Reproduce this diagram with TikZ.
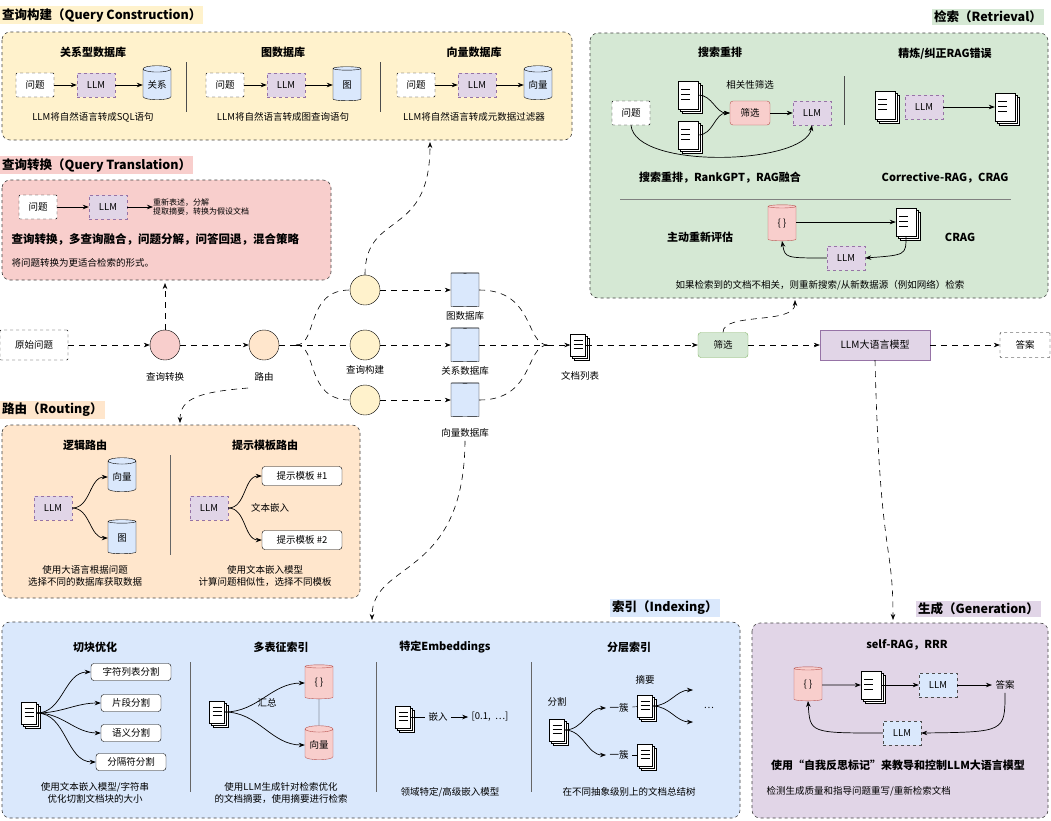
\documentclass[tikz,border=0pt]{standalone}
\usepackage{fontspec}
\setmainfont{Noto Sans CJK SC}
\usetikzlibrary{arrows.meta,calc,shapes.geometric,shadows}

\definecolor{qcfill}{HTML}{FFF2CC}
\definecolor{trfill}{HTML}{F8CECC}
\definecolor{rtfill}{HTML}{FFE6CC}
\definecolor{refill}{HTML}{D5E8D4}
\definecolor{ixfill}{HTML}{DAE8FC}
\definecolor{gnfill}{HTML}{E1D5E7}
\definecolor{llmline}{HTML}{9673A6}
\definecolor{pinkline}{HTML}{B85450}
\definecolor{greenline}{HTML}{82B366}

\tikzset{
  every node/.style={font=\fontsize{9.5}{11.5}\selectfont},
  grp/.style={draw=black!75, dashed, rounded corners=8, line width=0.6pt},
  ttl/.style={anchor=west, font=\fontsize{12.5}{14}\selectfont\bfseries, inner sep=2pt},
  sub/.style={font=\fontsize{11}{13}\selectfont\bfseries},
  qbox/.style={draw, dashed, fill=white, minimum width=38, minimum height=24, rounded corners=1},
  llm/.style={draw=llmline, dashed, fill=gnfill, minimum width=38, minimum height=24},
  db/.style={cylinder, shape border rotate=90, aspect=0.3, draw, fill=ixfill, minimum width=28, minimum height=34, inner sep=1pt},
  pdb/.style={db, fill=trfill, draw=pinkline},
  doc/.style={draw, fill=white, minimum width=15, minimum height=22, inner sep=0,
    double copy shadow={shadow xshift=2pt, shadow yshift=-2pt},
    path picture={\foreach \f in {0.3,0.47,0.64}
      \draw ([xshift=3pt]$(path picture bounding box.north west)!\f!(path picture bounding box.south west)$) -- ++(9pt,0);}},
  tmpl/.style={draw, fill=white, rounded corners=3, minimum height=19, inner sep=4pt},
  hub/.style={circle, draw, minimum size=30},
  arr/.style={-{Stealth[length=6pt]}, line width=0.7pt},
  flow/.style={dash pattern=on 6pt off 5pt, -{Stealth[length=6pt]}, line width=0.6pt},
}

\begin{document}
\begin{tikzpicture}[x=1pt,y=-1pt]
\useasboundingbox (0,0) rectangle (1051,820);

%Query construction
\node[ttl, fill=qcfill] (qctitle) at (0,15) {查询构建（Query Construction）};
\draw[grp, fill=qcfill] (2,32) rectangle (572,140);
\foreach \i/\x/\dbn/\head/\cap in {1/0/关系/关系型数据库/LLM将自然语言转成SQL语句,
    2/190/图/图数据库/LLM将自然语言转成图查询语句,
    3/381/向量/向量数据库/LLM将自然语言转成元数据过滤器}{
  \node[sub] (qch\i) at (93+\x,52) {\head};
  \node[qbox] (qcq\i) at (35+\x,85) {问题};
  \node[llm] (qcl\i) at (96+\x,85) {LLM};
  \node[db] (qcd\i) at (157+\x,85) {\dbn};
  \node (qcc\i) at (93+\x,117) {\cap};
  \draw[arr] (qcq\i) -- (qcl\i);
  \draw[arr] (qcl\i) -- (qcd\i);
}
\draw[line width=0.8pt, black!70] (186,62) -- (186,112);
\draw[line width=0.8pt, black!70] (380,62) -- (380,112);

%Query translation
\node[ttl, fill=trfill] (trtitle) at (0,165) {查询转换（Query Translation）};
\draw[grp, fill=trfill] (2,180) rectangle (331,280);
\node[qbox] (trq) at (38,207) {问题};
\node[llm] (trl) at (108,207) {LLM};
\node[anchor=west, align=left, inner sep=0, font=\fontsize{8}{9.5}\selectfont] (trout) at (153,207) {重新表述，分解\\提取摘要，转换为假设文档};
\draw[arr] (trq) -- (trl);
\draw[arr] (trl) -- (trout);
\node[anchor=west, font=\fontsize{11.5}{13}\selectfont\bfseries] (trbold) at (8,239) {查询转换，多查询融合，问题分解，问答回退，混合策略};
\node[anchor=west] (trnote) at (8,263) {将问题转换为更适合检索的形式。};

%Main flow
\node[qbox, minimum width=68, minimum height=30] (raw) at (34,345) {原始问题};
\node[hub, fill=trfill] (trans) at (165,345) {};
\node (transl) at (165,377) {查询转换};
\node[hub, fill=rtfill] (route) at (264,345) {};
\node (routel) at (264,377) {路由};
\coordinate (split) at (296,345);
\node[hub, fill=qcfill] (c1) at (365,290) {};
\node[hub, fill=qcfill] (c2) at (365,345) {};
\node[hub, fill=qcfill] (c3) at (365,400) {};
\node (c2l) at (365,370) {查询构建};
\node[db] (g1) at (465,290) {};
\node[db] (g2) at (465,345) {};
\node[db] (g3) at (465,400) {};
\node (g1l) at (465,316) {图数据库};
\node (g2l) at (465,371) {关系数据库};
\node (g3l) at (465,433) {向量数据库};
\coordinate (merge) at (548,345);
\node[doc] (docs) at (578,345) {};
\node (docsl) at (580,376) {文档列表};
\node[draw=greenline, fill=refill, rounded corners=3, minimum width=50, minimum height=25] (filt) at (723,345) {筛选};
\node[draw=llmline, fill=gnfill, minimum width=110, minimum height=30, font=\fontsize{10}{12}\selectfont] (bigllm) at (875,345) {LLM大语言模型};
\node[qbox, minimum width=50, minimum height=25] (ans) at (1025,345) {答案};

\draw[flow] (raw) -- (trans);
\draw[flow] (trans) -- (route);
\draw[flow,-] (route) -- (split);
\draw[flow,-] (split) .. controls (318,345) and (305,290) .. (c1.west);
\draw[flow,-] (split) -- (c2.west);
\draw[flow,-] (split) .. controls (318,345) and (305,400) .. (c3.west);
\draw[flow] (c1) -- (g1);
\draw[flow] (c2) -- (g2);
\draw[flow] (c3) -- (g3);
\draw[flow,-] (g1.east) .. controls (535,290) and (525,345) .. (merge);
\draw[flow,-] (g3.east) .. controls (535,400) and (525,345) .. (merge);
\draw[flow,-] (g2) -- (merge);
\draw[flow] (merge) -- (docs);
\draw[flow] (docs) -- (filt);
\draw[flow] (filt) -- (bigllm);
\draw[flow] (bigllm) -- (ans);

\coordinate (trtop) at (165,283);
\coordinate (qctop) at (430,142);
\coordinate (rtfrom) at (248,388);
\coordinate (rttop) at (180,423);
\coordinate (ixtop) at (372,620);
\coordinate (retop) at (795,300);
\coordinate (gntop) at (893,620);
\draw[flow] (trans) -- (trtop);
\draw[flow] (c1.north) .. controls (365,210) and (430,240) .. (qctop);
\draw[flow] (rtfrom) .. controls (200,392) and (180,398) .. (rttop);
\draw[flow] (g3l.south) .. controls (464,580) and (372,560) .. (ixtop);
\draw[flow] (filt.north) .. controls (723,312) and (795,325) .. (retop);
\draw[flow] (bigllm.south) .. controls (880,560) and (893,540) .. (gntop);

%Routing
\node[ttl, fill=rtfill] (rttitle) at (0,410) {路由（Routing）};
\draw[grp, fill=rtfill] (2,425) rectangle (360,598);
\node[sub] (rth1) at (85,445) {逻辑路由};
\node[sub] (rth2) at (265,445) {提示模板路由};
\node[llm] (rtl1) at (53,508) {LLM};
\node[db] (rtd1) at (122,477) {向量};
\node[db] (rtd2) at (122,538) {图};
\draw[arr] (rtl1.east) to[out=0,in=180] (rtd1.west);
\draw[arr] (rtl1.east) to[out=0,in=180] (rtd2.west);
\draw[line width=0.8pt, black!60] (170,455) -- (170,555);
\node[llm] (rtl2) at (209,508) {LLM};
\node[tmpl, minimum width=80] (tp1) at (302,476) {提示模板 \#1};
\node[tmpl, minimum width=80] (tp2) at (302,540) {提示模板 \#2};
\node (tpemb) at (270,508) {文本嵌入};
\draw[arr] (rtl2.east) to[out=0,in=180] (tp1.west);
\draw[arr] (rtl2.east) to[out=0,in=180] (tp2.west);
\node[align=center] (rtc1) at (85,576) {使用大语言根据问题\\选择不同的数据库获取数据};
\node[align=center] (rtc2) at (265,576) {使用文本嵌入模型\\计算问题相似性，选择不同模板};

%Retrieval
\node[ttl, fill=refill] (retitle) at (932,17) {检索（Retrieval）};
\draw[grp, fill=refill] (590,33) rectangle (1048,298);
\node[sub] (reh1) at (720,52) {搜索重排};
\node[sub] (reh2) at (945,54) {精炼/纠正RAG错误};
\node[qbox] (req) at (631,113) {问题};
\node[doc, minimum width=20, minimum height=28] (red1) at (688,95) {};
\node[doc, minimum width=20, minimum height=28] (red2) at (688,135) {};
\node (rerel) at (750,85) {相关性筛选};
\node[draw=pinkline, fill=trfill, rounded corners=3, minimum width=40, minimum height=24] (ref) at (750,113) {筛选};
\node[llm] (rel) at (812,113) {LLM};
\draw[arr] (red1.east) to[out=0,in=180] (ref.west);
\draw[arr] (red2.east) to[out=0,in=180] (ref.west);
\draw[arr] (ref) -- (rel);
\draw[arr] (req.south) .. controls (635,170) and (805,165) .. (rel.south);
\draw[line width=0.8pt, black!70] (844,76) -- (844,125);
\node[doc, minimum width=20, minimum height=28] (rec1) at (885,105) {};
\node[llm] (recl) at (924,107) {LLM};
\node[doc, minimum width=20, minimum height=28] (rec2) at (1005,107) {};
\draw[arr] (recl) -- (rec2);
\node[sub] (rel1) at (720,178) {搜索重排，RankGPT，RAG融合};
\node[sub] (rel2) at (945,178) {Corrective-RAG，CRAG};
\draw[line width=1pt, black!50] (620,199) -- (1011,199);
\node[sub] (reh3) at (700,237) {主动重新评估};
\node[pdb, minimum height=36] (rcd) at (782,224) {\{ \}};
\node[doc, minimum width=20, minimum height=28] (rcdoc) at (906,222) {};
\node[llm] (rcl) at (846,258) {LLM};
\node[sub] (rcrag) at (960,237) {CRAG};
\draw[arr] (rcd.east |- rcdoc.west) -- (rcdoc.west);
\draw[arr] (rcdoc.south) .. controls (906,255) .. (rcl.east);
\draw[arr] (rcl.west) .. controls (785,258) .. (rcd.south);
\node (renote) at (820,285) {如果检索到的文档不相关，则重新搜索/从新数据源（例如网络）检索};

%Indexing
\node[ttl, fill=ixfill] (ixtitle) at (610,608) {索引（Indexing）};
\draw[grp, fill=ixfill] (2,622) rectangle (740,818);
\node[sub] (ixh1) at (95,647) {切块优化};
\node[sub] (ixh2) at (281,647) {多表征索引};
\node[sub] (ixh3) at (445,647) {特定Embeddings};
\node[sub] (ixh4) at (629,647) {分层索引};
\node[doc] (ixd1) at (29,713) {};
\foreach \i/\y/\w/\t in {1/672/80/字符列表分割, 2/703/60/片段分割, 3/733/60/语义分割, 4/762/70/分隔符分割}{
  \node[tmpl, minimum width=\w, minimum height=17] (ixb\i) at (131,\y) {\t};
  \draw[arr] (ixd1.east) to[out=0,in=180] (ixb\i.west);
}
\node[align=center] (ixc1) at (95,793) {使用文本嵌入模型/字符串\\优化切割文档块的大小};
\draw[line width=0.8pt, black!60] (190,662) -- (190,792);
\node[doc] (ixd2) at (217,712) {};
\node[pdb] (ixm1) at (319,683) {\{ \}};
\node[pdb] (ixm2) at (319,745) {向量};
\node (ixsum) at (267,703) {汇总};
\draw[arr] (ixd2.east) to[out=0,in=180] (ixm1.west);
\draw[arr] (ixd2.east) to[out=0,in=180] (ixm2.west);
\draw (ixm1.south) -- (ixm2.north);
\node[align=center] (ixc2) at (281,793) {使用LLM生成针对检索优化\\的文档摘要，使用摘要进行检索};
\draw[line width=0.8pt, black!60] (376,662) -- (376,792);
\node[doc] (ixd3) at (403,717) {};
\node (ixemb) at (438,717) {嵌入};
\node (ixvec) at (490,717) {[0.1,\ \ …]};
\draw (ixd3.east) -- (ixemb.west);
\draw[arr] (ixemb) -- (ixvec);
\node (ixc3) at (450,792) {领域特定/高级嵌入模型};
\draw[line width=0.8pt, black!60] (531,662) -- (531,792);
\node (ixsplit) at (557,702) {分割};
\node[doc] (ixd4) at (557,730) {};
\node (ixk1) at (619,708) {一簇};
\node (ixk2) at (619,755) {一簇};
\node (ixabs) at (645,680) {摘要};
\node[doc] (ixd5) at (645,706) {};
\node[doc] (ixd6) at (645,755) {};
\coordinate (ixo1) at (693,690);
\coordinate (ixo2) at (693,722);
\node (ixdots) at (709,708) {…};
\draw[arr] (ixd4.east) to[out=0,in=180] (ixk1.west);
\draw[arr] (ixd4.east) to[out=0,in=180] (ixk2.west);
\draw (ixk1) -- (ixd5);
\draw (ixk2) -- (ixd6);
\draw[arr] (ixd5.east) to[out=0,in=180] (ixo1);
\draw[arr] (ixd5.east) to[out=0,in=180] (ixo2);
\node (ixc4) at (629,792) {在不同抽象级别上的文档总结树};

%Generation
\node[ttl, fill=gnfill] (gntitle) at (916,609) {生成（Generation）};
\draw[grp, fill=gnfill] (752,623) rectangle (1048,818);
\node[sub] (gnh) at (907,645) {self-RAG，RRR};
\node[pdb] (gnd) at (808,685) {\{ \}};
\node[doc, minimum width=20, minimum height=28] (gndoc) at (871,685) {};
\node[llm, fill=ixfill, draw=black!70] (gnl1) at (938,685) {LLM};
\node (gnans) at (1005,685) {答案};
\node[llm, fill=ixfill, draw=black!70] (gnl2) at (902,733) {LLM};
\draw[arr] (gnd) -- (gndoc);
\draw[arr] (gndoc) -- (gnl1);
\draw[arr] (gnl1) -- (gnans);
\draw[arr] (gnans.south) .. controls (1005,732) .. (gnl2.east);
\draw[arr] (gnl2.west) .. controls (810,733) .. (gnd.south);
\node[sub, font=\fontsize{11}{13}\selectfont\bfseries] (gnbold) at (898,765) {使用“自我反思标记”来教导和控制LLM大语言模型};
\node[anchor=west] (gnnote) at (763,791) {检测生成质量和指导问题重写/重新检索文档};
\end{tikzpicture}
\end{document}
